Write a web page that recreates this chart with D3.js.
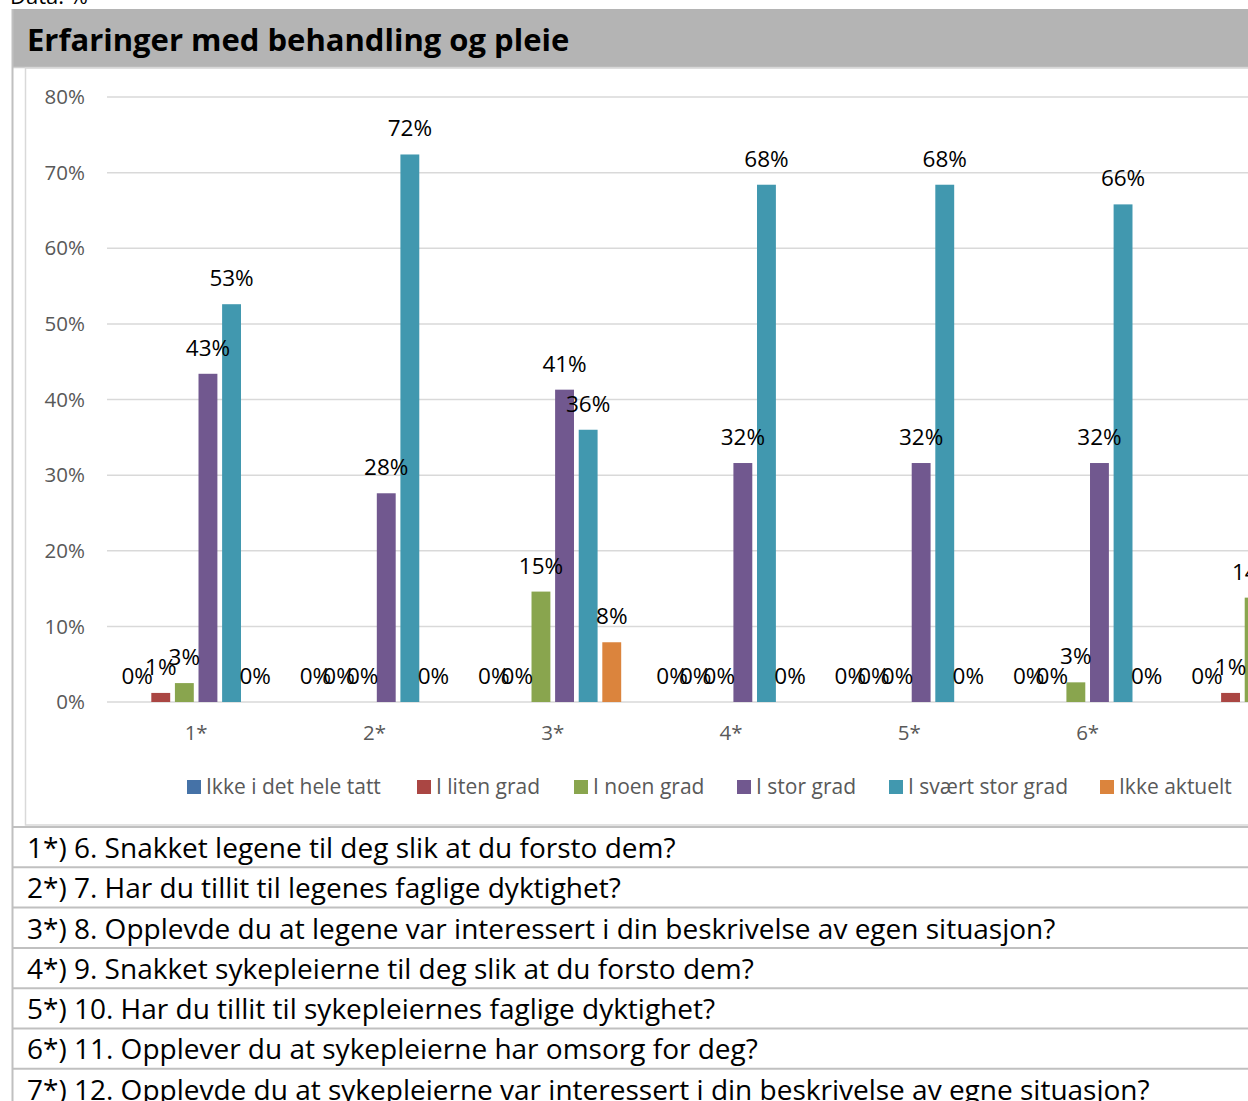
<!DOCTYPE html>
<html>
<head>
<meta charset="utf-8">
<script src="https://cdn.jsdelivr.net/npm/d3@7"></script>
<style>
  body { margin: 0; overflow: hidden; background: #fff; }
  svg { display: block; }
  text { font-variant-ligatures: none; }
</style>
</head>
<body>
<div id="chart"></div>
<script>
// Categories on the x-axis (the 7th is cut off at the right edge of the picture)
const categories = ["1*", "2*", "3*", "4*", "5*", "6*", "7*"];

// Series names, in legend order
const seriesNames = ["Ikke i det hele tatt", "I liten grad", "I noen grad", "I stor grad", "I svært stor grad", "Ikke aktuelt"];

// Values in percent, one array per series (null = not visible in picture)
const ikkeIDetHeleTatt = [0, 0, 0, 0, 0, 0, 0];
const iLitenGrad       = [1.2, 0, 0, 0, 0, 0, 1.2];
const iNoenGrad        = [2.5, 0, 14.6, 0, 0, 2.6, 13.8];
const iStorGrad        = [43.4, 27.6, 41.3, 31.6, 31.6, 31.6, null];
const iSvaertStorGrad  = [52.6, 72.4, 36.0, 68.4, 68.4, 65.8, null];
const ikkeAktuelt      = [0, 0, 7.9, 0, 0, 0, null];

const seriesValues = [ikkeIDetHeleTatt, iLitenGrad, iNoenGrad, iStorGrad, iSvaertStorGrad, ikkeAktuelt];
const colors = ["#4572a7", "#aa4643", "#89a54e", "#71588f", "#4198af", "#db843d"];

// y-axis ticks
const yTicks = [0, 10, 20, 30, 40, 50, 60, 70, 80];

// Question texts for the table below the chart
const questions = [
  "1*) 6. Snakket legene til deg slik at du forsto dem?",
  "2*) 7. Har du tillit til legenes faglige dyktighet?",
  "3*) 8. Opplevde du at legene var interessert i din beskrivelse av egen situasjon?",
  "4*) 9. Snakket sykepleierne til deg slik at du forsto dem?",
  "5*) 10. Har du tillit til sykepleiernes faglige dyktighet?",
  "6*) 11. Opplever du at sykepleierne har omsorg for deg?",
  "7*) 12. Opplevde du at sykepleierne var interessert i din beskrivelse av egne situasjon?"
];

const width = 1248, height = 1101;
const font = "'Open Sans', sans-serif";

const svg = d3.select("#chart")
  .append("svg")
  .attr("width", width)
  .attr("height", height);

// "Data: %" line, mostly cut off at the top
svg.append("text")
  .attr("x", 10).attr("y", 4)
  .style("font-family", font).style("font-size", "22px").style("fill", "#000")
  .text("Data: %");

// title bar
svg.append("rect")
  .attr("x", 12).attr("y", 9).attr("width", width).attr("height", 58)
  .attr("fill", "#b4b4b4");
svg.append("line")
  .attr("x1", 12).attr("x2", width).attr("y1", 67.5).attr("y2", 67.5)
  .attr("stroke", "#d0d0d0").attr("stroke-width", 1.5);
svg.append("text")
  .attr("x", 27).attr("y", 51)
  .style("font-family", font).style("font-size", "31px").style("font-weight", "bold")
  .style("fill", "#000")
  .text("Erfaringer med behandling og pleie");

// outer left border
svg.append("line")
  .attr("x1", 12.5).attr("x2", 12.5).attr("y1", 9).attr("y2", height)
  .attr("stroke", "#c0c0c0").attr("stroke-width", 2);

// chart area border
svg.append("rect")
  .attr("x", 25.5).attr("y", 68).attr("width", width).attr("height", 757)
  .attr("fill", "none").attr("stroke", "#d9d9d9").attr("stroke-width", 1.5);

// scales
const plotLeft = 107, step = 178.3;
const x = d3.scaleBand()
  .domain(categories)
  .range([plotLeft, plotLeft + step * categories.length])
  .padding(0);

const groupWidth = 23.6 * seriesNames.length;
const xSub = d3.scaleBand()
  .domain(d3.range(seriesNames.length))
  .range([(x.bandwidth() - groupWidth) / 2, (x.bandwidth() + groupWidth) / 2])
  .paddingInner(0.2)
  .paddingOuter(0.1);

const y = d3.scaleLinear()
  .domain([0, 80])
  .range([702, 97]);

// gridlines
svg.append("g")
  .selectAll("line")
  .data(yTicks)
  .join("line")
    .attr("x1", plotLeft).attr("x2", width)
    .attr("y1", d => y(d)).attr("y2", d => y(d))
    .attr("stroke", "#d9d9d9").attr("stroke-width", 1.5);

// y-axis labels
svg.append("g")
  .selectAll("text")
  .data(yTicks)
  .join("text")
    .attr("x", 85).attr("y", d => y(d))
    .attr("dy", "0.35em")
    .attr("text-anchor", "end")
    .style("font-family", font).style("font-size", "20.5px").style("fill", "#595959")
    .text(d => d + "%");

// x-axis labels
svg.append("g")
  .selectAll("text")
  .data(categories)
  .join("text")
    .attr("x", d => x(d) + x.bandwidth() / 2).attr("y", 733)
    .attr("dy", "0.35em")
    .attr("text-anchor", "middle")
    .style("font-family", font).style("font-size", "20.5px").style("fill", "#595959")
    .text(d => d);

// flatten to bar records
const bars = [];
seriesValues.forEach((vals, s) => {
  vals.forEach((v, i) => {
    if (v !== null) bars.push({ series: s, cat: categories[i], value: v });
  });
});

svg.append("g")
  .selectAll("rect")
  .data(bars)
  .join("rect")
    .attr("x", d => x(d.cat) + xSub(d.series))
    .attr("width", xSub.bandwidth())
    .attr("y", d => y(d.value))
    .attr("height", d => y(0) - y(d.value))
    .attr("fill", d => colors[d.series]);

// data labels
svg.append("g")
  .selectAll("text")
  .data(bars)
  .join("text")
    .attr("x", d => x(d.cat) + xSub(d.series) + xSub.bandwidth() / 2)
    .attr("y", d => y(d.value) - 18)
    .attr("text-anchor", "middle")
    .style("font-family", font).style("font-size", "22.5px").style("fill", "#000")
    .text(d => Math.round(d.value) + "%");

// legend
const legendX = [187, 417, 574, 737, 889, 1100];
const legend = svg.append("g")
  .selectAll("g")
  .data(seriesNames)
  .join("g")
    .attr("transform", (d, i) => `translate(${legendX[i]},787)`);
legend.append("rect")
  .attr("x", 0).attr("y", -7).attr("width", 14).attr("height", 14)
  .attr("fill", (d, i) => colors[i]);
legend.append("text")
  .attr("x", 19).attr("dy", "0.35em")
  .style("font-family", font).style("font-size", "21px").style("fill", "#595959")
  .text(d => d);

// question table
const rowTop = 827, rowH = 40.3;
svg.append("g")
  .selectAll("line")
  .data(d3.range(questions.length))
  .join("line")
    .attr("x1", 12).attr("x2", width)
    .attr("y1", i => rowTop + i * rowH).attr("y2", i => rowTop + i * rowH)
    .attr("stroke", "#c0c0c0").attr("stroke-width", 2);

svg.append("g")
  .selectAll("text")
  .data(questions)
  .join("text")
    .attr("x", 27).attr("y", (d, i) => rowTop + i * rowH + rowH / 2 + 1)
    .attr("dy", "0.35em")
    .style("font-family", font).style("font-size", "28px").style("fill", "#000")
    .text(d => d);
</script>
</body>
</html>
